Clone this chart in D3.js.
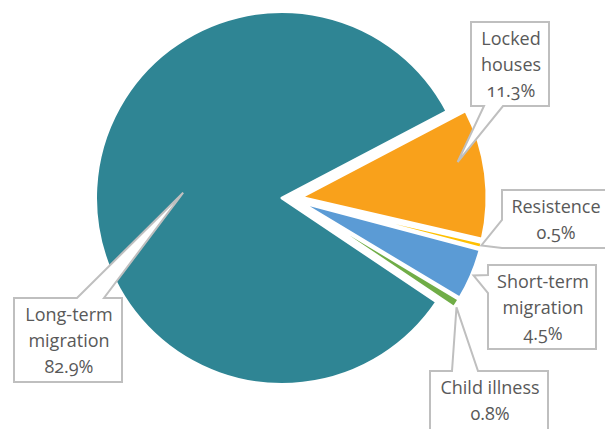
<!DOCTYPE html>
<html>
<head>
<meta charset="utf-8">
<script src="https://cdn.jsdelivr.net/npm/d3@7"></script>
<style>
    body { margin: 0; background: #fff; }
    .calloutText { font-family: "Open Sans", sans-serif; font-size: 18px; fill: #595959; font-variant-numeric: oldstyle-nums; }
</style>
</head>
<body>
<div id="pie"></div>
<script>
    // data
    const categories = ["Locked houses", "Resistence", "Short-term migration", "Child illness", "Long-term migration"];
    const values = [11.3, 0.5, 4.5, 0.8, 82.9];
    const labelLines = [["Locked", "houses"], ["Resistence"], ["Short-term", "migration"], ["Child illness"], ["Long-term", "migration"]];
    const colors = ["#F9A11B", "#FFC000", "#5B9BD5", "#70AD47", "#2F8594"];

    const width = 605, height = 429;
    const cx = 291.3, cy = 198.5, radius = 186.5, explode = 9.3;

    // callout boxes: position of the box, where the pointer leaves it, and where it points in the slice
    const callouts = [
        {box: [471, 22, 78, 84], side: "bottom", base: [484, 503], tipR: 161, tipShift: -5.3},
        {box: [502, 190, 106, 58], side: "left", base: [220, 248], tipR: radius, tipShift: 0},
        {box: [488, 265, 108, 84], side: "left", base: [275, 293], tipR: radius + 2, tipShift: 0},
        {box: [430, 371, 118, 62], side: "top", base: [452, 478], tipR: radius + 2, tipShift: 1},
        {box: [14, 298, 108, 84], side: "top", base: [77, 104], tipR: 99, tipShift: 0}
    ];

    let svg = d3.select("#pie")
        .append("svg")
        .attr("width", width)
        .attr("height", height);

    let data = categories.map((c, i) => ({name: c, value: values[i], lines: labelLines[i], color: colors[i], callout: callouts[i]}));

    let pie = d3.pie()
        .sort(null)
        .value(d => d.value)
        .startAngle(62.3 * Math.PI / 180)
        .endAngle(62.3 * Math.PI / 180 + 2 * Math.PI);

    let arc = d3.arc()
        .innerRadius(0)
        .outerRadius(radius);

    let arcs = pie(data);

    // centre of every exploded slice
    arcs.forEach(a => {
        let mid = (a.startAngle + a.endAngle) / 2;
        a.mid = mid;
        a.ox = cx + explode * Math.sin(mid);
        a.oy = cy - explode * Math.cos(mid);
    });

    svg.selectAll(".slice")
        .data(arcs)
        .join("path")
        .attr("class", "slice")
        .attr("transform", d => `translate(${d.ox}, ${d.oy})`)
        .attr("d", arc)
        .style("fill", d => d.data.color)
        .style("stroke", "#fff")
        .style("stroke-width", 3)
        .style("stroke-linejoin", "round");

    // callout shape: box with pointer
    function calloutPath(d){
        let c = d.data.callout;
        let [x, y, w, h] = c.box;
        let ang = d.mid + c.tipShift * Math.PI / 180;
        let tx = d.ox + c.tipR * Math.sin(ang),
            ty = d.oy - c.tipR * Math.cos(ang);
        let p = d3.path();
        p.moveTo(x, y);
        if (c.side === "top"){
            p.lineTo(c.base[0], y);
            p.lineTo(tx, ty);
            p.lineTo(c.base[1], y);
            p.lineTo(x + w, y);
            p.lineTo(x + w, y + h);
            p.lineTo(x, y + h);
        } else if (c.side === "bottom"){
            p.lineTo(x + w, y);
            p.lineTo(x + w, y + h);
            p.lineTo(c.base[1], y + h);
            p.lineTo(tx, ty);
            p.lineTo(c.base[0], y + h);
            p.lineTo(x, y + h);
        } else {
            p.lineTo(x + w, y);
            p.lineTo(x + w, y + h);
            p.lineTo(x, y + h);
            p.lineTo(x, c.base[1]);
            p.lineTo(tx, ty);
            p.lineTo(x, c.base[0]);
        }
        p.closePath();
        return p.toString();
    }

    svg.selectAll(".callout")
        .data(arcs)
        .join("path")
        .attr("class", "callout")
        .attr("d", calloutPath)
        .style("fill", "#fff")
        .style("stroke", "#BFBFBF")
        .style("stroke-width", 2)
        .style("stroke-linejoin", "miter");

    // label texts
    let fmt = d3.format(".1f");
    let labels = svg.selectAll(".calloutText")
        .data(arcs)
        .join("text")
        .attr("class", "calloutText")
        .attr("text-anchor", "middle");

    labels.each(function(d){
        let [x, y, w] = d.data.callout.box;
        let lines = d.data.lines.concat([fmt(d.data.value) + "%"]);
        d3.select(this).selectAll("tspan")
            .data(lines)
            .join("tspan")
            .attr("x", x + w / 2 + 1)
            .attr("y", (t, i) => y + 17 + i * 26)
            .attr("dy", "0.35em")
            .text(t => t);
    });
</script>
</body>
</html>
